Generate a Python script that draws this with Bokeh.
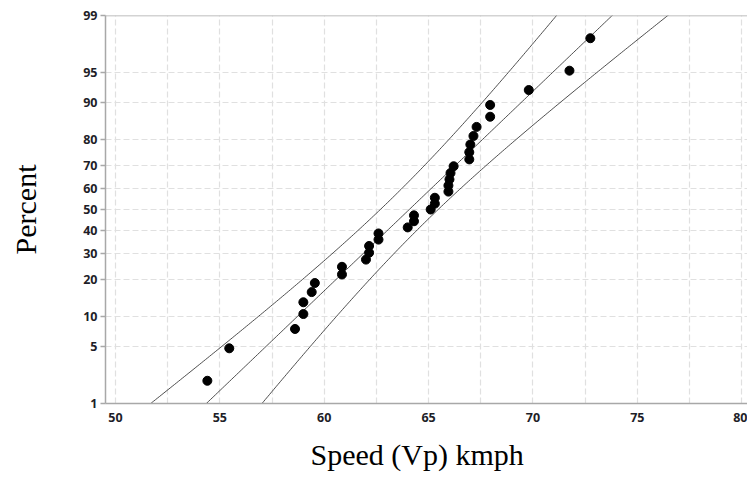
from statistics import NormalDist, mean, stdev
import numpy as np
from bokeh.plotting import figure
from bokeh.models import FixedTicker, Span, Title
from bokeh.embed import file_html
from bokeh.resources import INLINE

# ---- data ----
speed = [54.4, 55.45, 58.6, 59.0, 59.0, 59.4, 59.55, 60.85, 60.85, 62.0,
         62.15, 62.15, 62.6, 62.6, 64.0, 64.3, 64.3, 65.1, 65.3, 65.3,
         65.95, 65.95, 66.0, 66.05, 66.2, 66.95, 66.95, 67.0, 67.15, 67.3,
         67.95, 67.95, 69.8, 71.75, 72.75]
percent = [2.0, 4.8, 7.6, 10.5, 13.3, 16.1, 18.9, 21.8, 24.6, 27.4,
           30.2, 33.1, 35.9, 38.7, 41.5, 44.4, 47.2, 50.0, 52.8, 55.6,
           58.5, 61.3, 64.1, 66.9, 69.8, 72.6, 75.4, 78.2, 81.1, 83.9,
           86.7, 89.5, 92.4, 95.2, 98.0]
y_tick_pcts = [1, 5, 10, 20, 30, 40, 50, 60, 70, 80, 90, 95, 99]
x_tick_vals = [50, 55, 60, 65, 70, 75, 80]
x_minor_vals = [52.5, 57.5, 62.5, 67.5, 72.5, 77.5]
x_title = "Speed (Vp) kmph"
y_title = "Percent"

nd = NormalDist()
def zq(p):
    return nd.inv_cdf(p / 100.0)

y_pts = [zq(p) for p in percent]
zmin, zmax = zq(1), zq(99)

# fitted normal line and 95% confidence band
mu = mean(speed)
sd = stdev(speed)
n = len(speed)
zz = np.linspace(-2.7, 2.7, 271)
fit_x = mu + zz * sd
half = 1.96 * sd * np.sqrt((1 + zz ** 2 / 2) / n)

p = figure(width=747, height=481, output_backend="svg", toolbar_location=None,
           x_range=(49.52, 80.28), y_range=(zmin, zmax),
           min_border_left=105, min_border_right=0, min_border_top=15,
           min_border_bottom=77)
p.outline_line_color = None
p.background_fill_color = "white"
p.border_fill_color = "white"

line_col = "#3a3a3a"
p.line(fit_x, zz, line_color=line_col, line_width=0.9)
p.line(fit_x - half, zz, line_color=line_col, line_width=0.9)
p.line(fit_x + half, zz, line_color=line_col, line_width=0.9)
p.scatter(speed, y_pts, size=9, color="black")

axis_col = "#a8a8a8"
grid_col = "#e0e0e0"

# x axis
p.xaxis.ticker = FixedTicker(ticks=x_tick_vals, minor_ticks=x_minor_vals)
p.xaxis.major_tick_out = 0
p.xaxis.major_tick_in = 0
p.xaxis.minor_tick_out = 0
p.xaxis.minor_tick_in = 0
p.xaxis.major_label_standoff = 9

# x title (slightly left of the frame centre, as in the reference)
p.add_layout(Title(text=x_title, align="left", offset=205, standoff=22,
                   text_font="Liberation Serif", text_font_size="30px",
                   text_font_style="normal", text_color="black"), "below")

# y axis
y_ticks = [zq(v) for v in y_tick_pcts]
p.yaxis.ticker = FixedTicker(ticks=y_ticks)
p.yaxis.major_label_overrides = {t: str(v) for t, v in zip(y_ticks, y_tick_pcts)}
p.yaxis.major_tick_out = 5
p.yaxis.major_tick_in = 0
p.yaxis.minor_tick_out = 0
p.yaxis.minor_tick_in = 0
p.yaxis.major_label_standoff = 3
p.yaxis.axis_label = y_title
p.yaxis.axis_label_standoff = 38

for ax in (p.xaxis, p.yaxis):
    ax.axis_line_color = axis_col
    ax.axis_line_width = 1.5
    ax.major_tick_line_color = axis_col
    ax.major_tick_line_width = 1.5
    ax.major_label_text_font = "Open Sans"
    ax.major_label_text_font_style = "bold"
    ax.major_label_text_font_size = "12.5px"
    ax.major_label_text_color = "#1e1e28"
    ax.axis_label_text_font = "Liberation Serif"
    ax.axis_label_text_font_style = "normal"
    ax.axis_label_text_font_size = "30px"
    ax.axis_label_text_color = "black"

# grids
p.xgrid.grid_line_color = grid_col
p.xgrid.grid_line_dash = "6 3"
p.xgrid.grid_line_width = 1.2
p.xgrid.minor_grid_line_color = grid_col
p.xgrid.minor_grid_line_dash = "6 3"
p.xgrid.minor_grid_line_width = 1.2
p.ygrid.grid_line_color = grid_col
p.ygrid.grid_line_dash = "6 3"
p.ygrid.grid_line_width = 1.2

# top border line
p.add_layout(Span(location=zmax, dimension="width", line_color=axis_col, line_width=1.5))

open("out.html", "w").write(file_html(p, INLINE))
